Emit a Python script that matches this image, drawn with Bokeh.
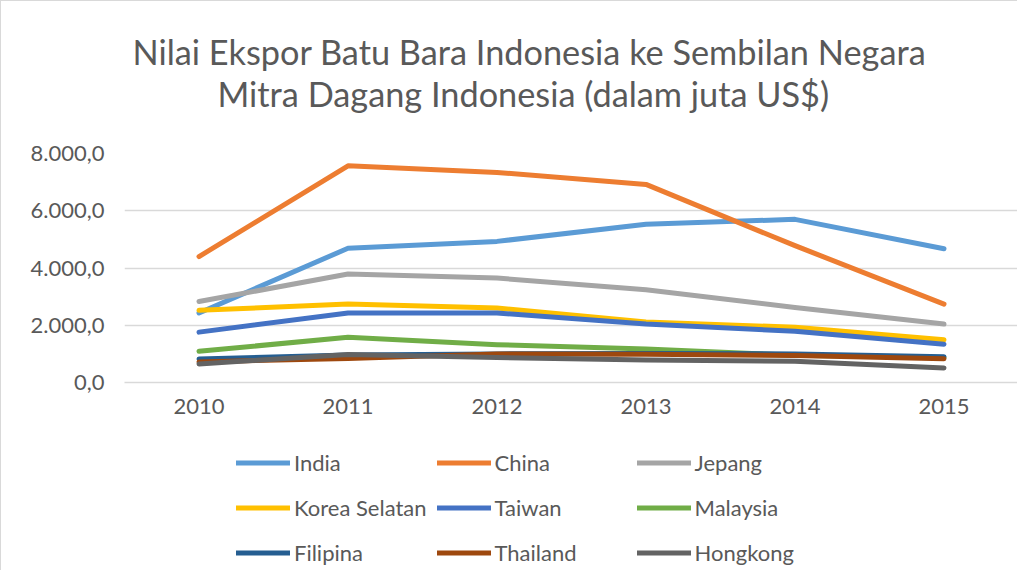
from bokeh.plotting import figure
from bokeh.layouts import column
from bokeh.models import FactorRange, Range1d, FixedTicker, Legend, LegendItem, Title
from bokeh.embed import file_html
from bokeh.resources import INLINE

years = ["2010", "2011", "2012", "2013", "2014", "2015"]

india = [2430, 4690, 4930, 5530, 5700, 4670]
china = [4400, 7570, 7340, 6920, 4780, 2740]
jepang = [2830, 3790, 3650, 3240, 2620, 2040]
korea_selatan = [2520, 2740, 2600, 2110, 1930, 1490]
taiwan = [1760, 2430, 2430, 2040, 1790, 1340]
malaysia = [1090, 1580, 1320, 1170, 950, 870]
filipina = [820, 960, 1000, 1010, 1000, 900]
thailand = [720, 840, 1000, 990, 940, 830]
hongkong = [650, 980, 870, 790, 740, 510]

series_names = ["India", "China", "Jepang", "Korea Selatan", "Taiwan",
                "Malaysia", "Filipina", "Thailand", "Hongkong"]
series_values = [india, china, jepang, korea_selatan, taiwan,
                 malaysia, filipina, thailand, hongkong]
series_colors = ["#5B9BD5", "#ED7D31", "#A5A5A5", "#FFC000", "#4472C4",
                 "#70AD47", "#255E91", "#9E480E", "#636363"]

y_ticks = [0, 2000, 4000, 6000, 8000]
y_tick_labels = ["0,0", "2.000,0", "4.000,0", "6.000,0", "8.000,0"]

title_line1 = "Nilai Ekspor Batu Bara Indonesia ke Sembilan Negara"
title_line2 = "Mitra Dagang Indonesia (dalam juta US$)"

FONT = "Lato"
TXT = "#595959"
GRID = "#d9d9d9"

# ---------------- main chart ----------------
p = figure(width=1017, height=430,
           x_range=FactorRange(*years), y_range=Range1d(0, 8000),
           output_backend="svg", toolbar_location=None,
           min_border_left=123, min_border_right=0,
           min_border_top=152, min_border_bottom=49)
p.styles = {"border-top": "1px solid " + GRID, "border-left": "1px solid " + GRID}
p.outline_line_color = None
p.background_fill_color = "white"
p.border_fill_color = "white"

p.xgrid.visible = False
p.ygrid.grid_line_color = GRID
p.ygrid.grid_line_width = 1.5

p.yaxis.ticker = FixedTicker(ticks=y_ticks)
p.yaxis.major_label_overrides = {t: l for t, l in zip(y_ticks, y_tick_labels)}
p.yaxis.axis_line_color = None
p.yaxis.major_tick_line_color = None
p.yaxis.minor_tick_line_color = None
p.yaxis.major_tick_out = 0
p.yaxis.major_tick_in = 0
p.yaxis.major_label_standoff = 20
p.yaxis.major_label_text_font = FONT
p.yaxis.major_label_text_font_size = "22px"
p.yaxis.major_label_text_color = TXT

p.xaxis.axis_line_color = GRID
p.xaxis.axis_line_width = 1.5
p.xaxis.major_tick_line_color = None
p.xaxis.minor_tick_line_color = None
p.xaxis.major_tick_out = 0
p.xaxis.major_tick_in = 0
p.xaxis.major_label_standoff = 16
p.xaxis.major_label_text_font = FONT
p.xaxis.major_label_text_font_size = "22px"
p.xaxis.major_label_text_color = TXT

for name, vals, col in zip(series_names, series_values, series_colors):
    p.line(years, vals, line_color=col, line_width=5,
           line_cap="round", line_join="round")

spacer = Title(text=" ", standoff=23, text_font=FONT, text_font_size="10px",
               text_color="white")
t2 = Title(text=title_line2, align="left", offset=93, standoff=5,
           text_font=FONT, text_font_size="34.3px", text_font_style="normal",
           text_color=TXT)
t1 = Title(text=title_line1, align="left", offset=8, standoff=-6,
           text_font=FONT, text_font_size="34.3px", text_font_style="normal",
           text_color=TXT)
p.add_layout(spacer, "above")
p.add_layout(t2, "above")
p.add_layout(t1, "above")

# ---------------- legend strip ----------------
# The series are re-drawn here outside the visible range, only so that the
# legend can show their line glyphs.
lg = figure(width=1017, height=140, x_range=FactorRange(*years),
            y_range=Range1d(-2, -1),
            output_backend="svg", toolbar_location=None,
            x_axis_location=None, y_axis_location=None,
            min_border=0, min_border_left=0, min_border_right=0,
            min_border_top=0, min_border_bottom=0)
lg.styles = {"border-left": "1px solid " + GRID}
lg.outline_line_color = None
lg.xgrid.visible = False
lg.ygrid.visible = False
lg.background_fill_color = "white"
lg.border_fill_color = "white"

items = []
for name, vals, col in zip(series_names, series_values, series_colors):
    r = lg.line(years, vals, line_color=col, line_width=5, line_cap="round")
    items.append(LegendItem(label=name, renderers=[r]))

legend = Legend(items=items, orientation="horizontal", ncols=3, location=(112, 0))
legend.border_line_color = None
legend.background_fill_alpha = 0
legend.padding = 0
legend.margin = 0
legend.spacing = 10
legend.glyph_width = 54
legend.glyph_height = 35
legend.label_height = 35
legend.label_width = 132
legend.label_standoff = 4
legend.label_text_font = FONT
legend.label_text_font_size = "22px"
legend.label_text_color = TXT
lg.add_layout(legend)

layout = column(p, lg, spacing=0)
open("out.html", "w").write(file_html(layout, INLINE))
